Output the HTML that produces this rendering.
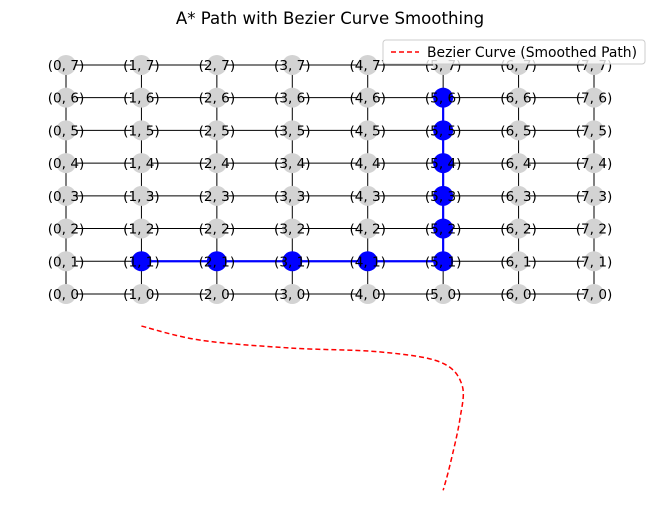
<!DOCTYPE html>
<html><head><meta charset="utf-8"><style>
body{margin:0;background:#fff;}
svg{font-family:"DejaVu Sans","Liberation Sans",sans-serif;}
</style></head><body>
<svg id="chart" width="660" height="522" viewBox="0 0 660 522">
<text x="330" y="24" text-anchor="middle" font-size="16.6">A* Path with Bezier Curve Smoothing</text>
<g id="edges"></g><g id="pathedges"></g><g id="nodes"></g><g id="labels"></g><g id="curve"></g>
<g>
<rect x="383" y="40" width="262" height="24" fill="#fff" fill-opacity="0.8" stroke="#ccc" rx="3"/>
<line x1="391" y1="52" x2="419" y2="52" stroke="red" stroke-width="1.5" stroke-dasharray="5,3"/>
<text x="427" y="57" font-size="13.9">Bezier Curve (Smoothed Path)</text>
</g>
</svg>
<script>
const gridSize = 8;
const pathX = [1,2,3,4,5,5,5,5,5,5];
const pathY = [1,1,1,1,1,2,3,4,5,6];
const curveX = [1.0,1.78,2.97,4.16,4.96,5.25,5.22,5.09,5.0];
const curveY = [-0.98,-1.41,-1.65,-1.77,-2.08,-2.78,-3.85,-5.23,-6.0];
const sx = v => 66 + v*75.43;
const sy = v => 294 - v*32.72;
const NS="http://www.w3.org/2000/svg";
function mk(t,a,p){const e=document.createElementNS(NS,t);for(const k in a)e.setAttribute(k,a[k]);p.appendChild(e);return e;}
const E=document.getElementById('edges'),P=document.getElementById('pathedges'),N=document.getElementById('nodes'),L=document.getElementById('labels'),C=document.getElementById('curve');
for(let i=0;i<gridSize;i++)for(let j=0;j<gridSize;j++){
 if(i<gridSize-1){const l=mk('line',{x1:sx(i),y1:sy(j),x2:sx(i+1),y2:sy(j),stroke:'#000','stroke-width':1},E);
 
 }
 if(j<gridSize-1){const l=mk('line',{x1:sx(i),y1:sy(j),x2:sx(i),y2:sy(j+1),stroke:'#000','stroke-width':1},E);
 
 }
}
const inPath=(i,j)=>pathX.some((x,k)=>x===i&&pathY[k]===j);
for(let k=0;k<pathX.length-1;k++){const l=mk('line',{x1:sx(pathX[k]),y1:sy(pathY[k]),x2:sx(pathX[k+1]),y2:sy(pathY[k+1]),stroke:'blue','stroke-width':2.2},P);
 
 }
for(let i=0;i<gridSize;i++)for(let j=0;j<gridSize;j++){
 const c=mk('circle',{cx:sx(i),cy:sy(j),r:10,fill:inPath(i,j)?'blue':'#d3d3d3'},N);
 
 
 const t=mk('text',{x:sx(i),y:sy(j)+5,'text-anchor':'middle','font-size':13.6},L);
 t.textContent='('+i+', '+j+')';
 
 
}
let d='M'+sx(curveX[0])+' '+sy(curveY[0]);
for(let k=1;k<curveX.length;k++){
 const x0=sx(curveX[k-1]),y0=sy(curveY[k-1]),x1=sx(curveX[k]),y1=sy(curveY[k]);
 const xm=sx(curveX[Math.max(k-2,0)]),ym=sy(curveY[Math.max(k-2,0)]);
 const xp=sx(curveX[Math.min(k+1,curveX.length-1)]),yp=sy(curveY[Math.min(k+1,curveX.length-1)]);
 d+=' C'+(x0+(x1-xm)/6)+' '+(y0+(y1-ym)/6)+' '+(x1-(xp-x0)/6)+' '+(y1-(yp-y0)/6)+' '+x1+' '+y1;
}
const cp=mk('path',{d:d,fill:'none',stroke:'red','stroke-width':1.5,'stroke-dasharray':'5,3'},C);


</script>
</body></html>
